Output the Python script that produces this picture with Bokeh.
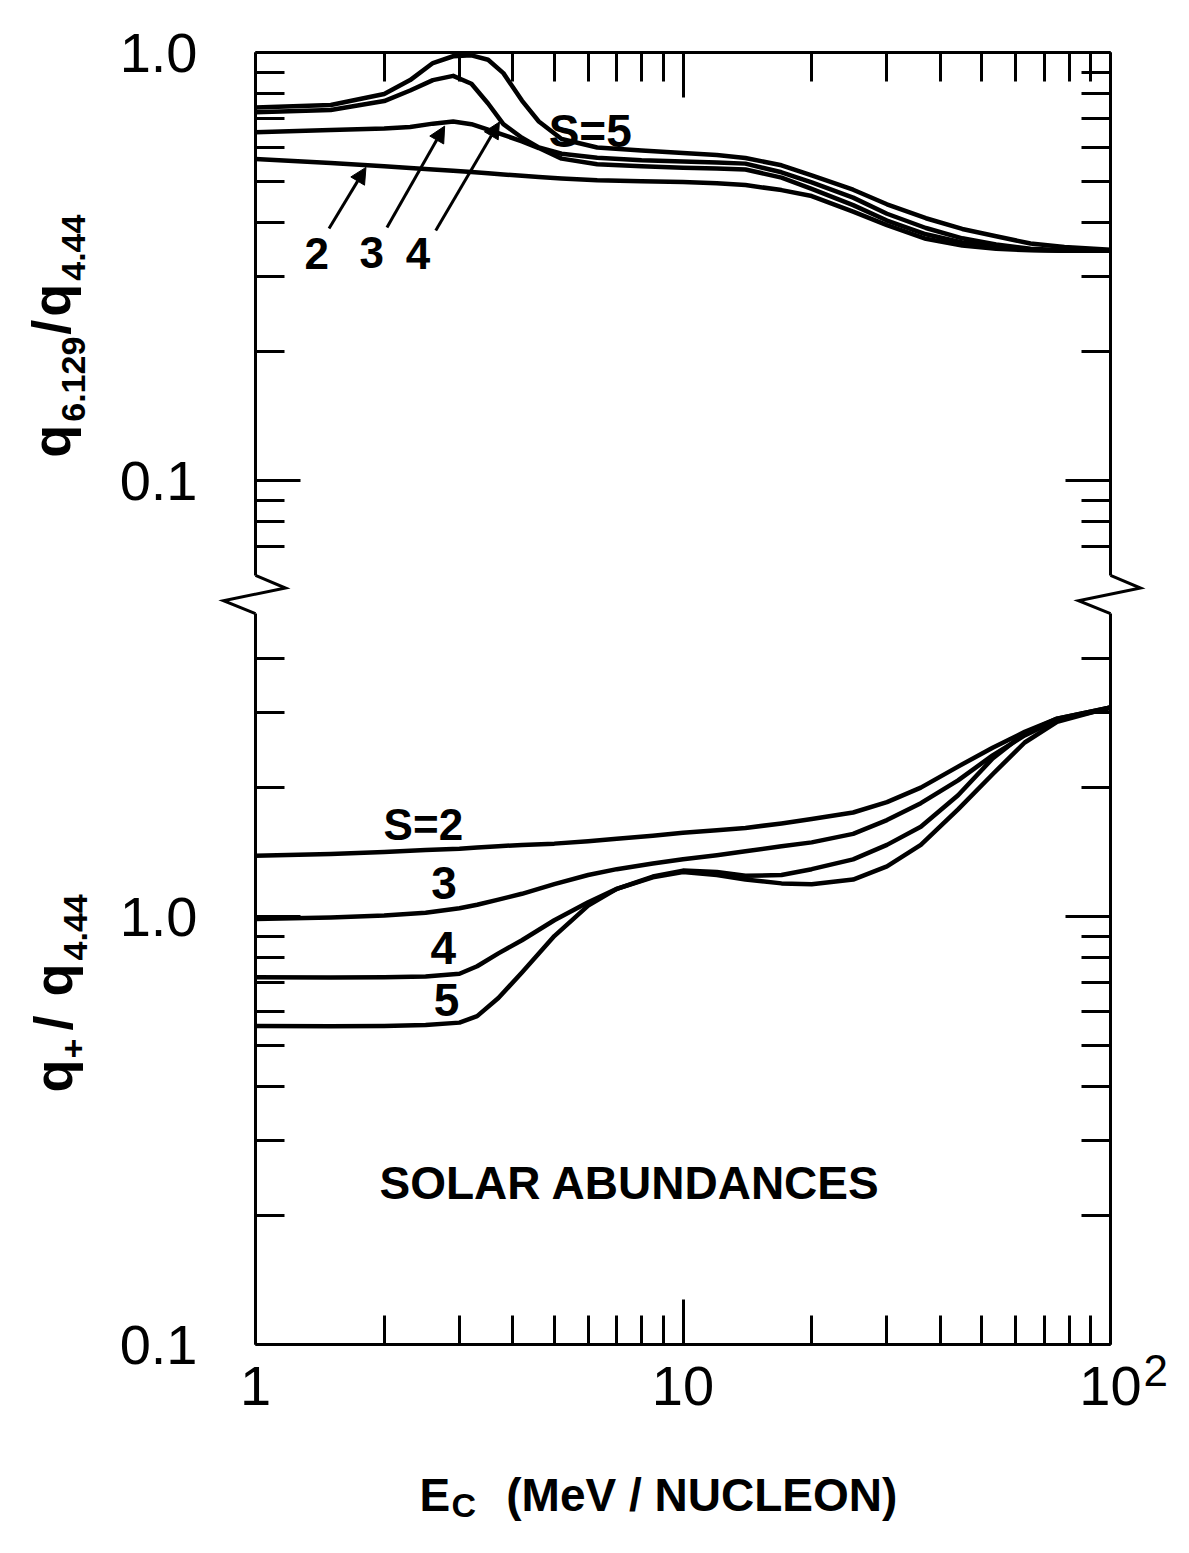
import math
from bokeh.plotting import figure
from bokeh.models import (Range1d, LogAxis, LogScale, FixedTicker, Label, Arrow,
                          NormalHead)
from bokeh.embed import file_html
from bokeh.resources import INLINE

FONT = "Liberation Sans"

# ---------------- data ----------------
# upper panel: q6.129 / q4.44 vs Ec (MeV/nucleon)
energy_top = [1, 1.5, 2.0, 2.3, 2.6, 2.9, 3.2, 3.5, 3.8, 4.2, 4.6, 5.2, 6.3, 8, 10, 12, 14,
              17, 20, 25, 30, 37, 45, 54, 65, 78, 100]
top_s2 = [0.564, 0.552, 0.542, 0.537, 0.533, 0.529, 0.526, 0.522, 0.519, 0.515, 0.512, 0.508,
          0.503, 0.500, 0.498, 0.495, 0.490, 0.477, 0.462, 0.425, 0.395, 0.367, 0.354, 0.348,
          0.345, 0.344, 0.344]
top_s3 = [0.651, 0.659, 0.664, 0.670, 0.682, 0.690, 0.680, 0.660, 0.642, 0.620, 0.598, 0.565,
          0.548, 0.542, 0.538, 0.536, 0.533, 0.510, 0.480, 0.440, 0.405, 0.376, 0.360, 0.352,
          0.346, 0.344, 0.344]
top_s4 = [0.725, 0.734, 0.770, 0.815, 0.862, 0.882, 0.845, 0.760, 0.680, 0.632, 0.600, 0.580,
          0.568, 0.560, 0.556, 0.553, 0.550, 0.525, 0.497, 0.458, 0.420, 0.389, 0.368, 0.356,
          0.348, 0.345, 0.344]
top_s5 = [0.744, 0.754, 0.800, 0.862, 0.945, 0.980, 0.985, 0.962, 0.895, 0.772, 0.690, 0.628,
          0.600, 0.590, 0.582, 0.576, 0.567, 0.545, 0.516, 0.478, 0.442, 0.410, 0.387, 0.372,
          0.358, 0.351, 0.346]

# lower panel: q+ / q4.44 vs Ec
energy_bot = [1, 1.5, 2, 2.5, 3.0, 3.3, 3.7, 4.2, 5, 6, 7, 8.5, 10, 12, 14, 17, 20, 25, 30,
              36, 44, 53, 63, 75, 100]
bot_s2 = [1.386, 1.40, 1.415, 1.43, 1.44, 1.45, 1.46, 1.47, 1.48, 1.50, 1.52, 1.545, 1.57,
          1.59, 1.61, 1.65, 1.69, 1.75, 1.85, 2.00, 2.24, 2.48, 2.70, 2.90, 3.08]
bot_s3 = [0.986, 0.995, 1.005, 1.02, 1.045, 1.065, 1.095, 1.13, 1.19, 1.25, 1.29, 1.33, 1.36,
          1.39, 1.42, 1.46, 1.49, 1.56, 1.68, 1.84, 2.08, 2.38, 2.65, 2.88, 3.07]
bot_s4 = [0.721, 0.720, 0.721, 0.724, 0.735, 0.765, 0.82, 0.88, 0.98, 1.08, 1.16, 1.24, 1.28,
          1.27, 1.245, 1.25, 1.29, 1.36, 1.47, 1.62, 1.92, 2.34, 2.68, 2.90, 3.08]
bot_s5 = [0.555, 0.554, 0.555, 0.558, 0.565, 0.585, 0.645, 0.74, 0.90, 1.06, 1.16, 1.235, 1.27,
          1.25, 1.22, 1.195, 1.19, 1.22, 1.31, 1.47, 1.78, 2.15, 2.55, 2.85, 3.08]

# axes
x_lim = (1, 100)
x_major = [1, 10, 100]
x_minor = [2, 3, 4, 5, 6, 7, 8, 9, 20, 30, 40, 50, 60, 70, 80, 90]
x_tick_text = ["1", "10", "10"]
x_sup_text = "2"
top_lim = (0.06, 1.0)
top_major = [0.1, 1.0]
top_minor = [0.07, 0.08, 0.09, 0.2, 0.3, 0.4, 0.5, 0.6, 0.7, 0.8, 0.9]
bot_lim = (0.1, 5.1)
bot_major = [0.1, 1.0]
bot_minor = [0.2, 0.3, 0.4, 0.5, 0.6, 0.7, 0.8, 0.9, 2, 3, 4]
y_tick_text = ["0.1", "1.0"]

# annotations
top_curve_labels = [("2", 1.39, 0.340), ("3", 1.87, 0.341), ("4", 2.40, 0.339)]
top_arrows = [((1.486, 0.388), (1.813, 0.539)),
              ((2.03, 0.390), (2.77, 0.673)),
              ((2.64, 0.384), (3.72, 0.688))]
top_s5_label = ("S=5", 4.85, 0.655)
bot_curve_labels = [("S=2", 2.47, 1.64), ("3", 2.76, 1.197), ("4", 2.75, 0.846),
                    ("5", 2.80, 0.639)]
bot_title = ("SOLAR ABUNDANCES", 1.95, 0.239)

# ---------------- geometry (pixels) ----------------
W, H = 1170, 1535
PPD_X = 427.5          # pixels per decade, horizontal
PPD_Y = 428.0          # pixels per decade, vertical
X1 = 255               # canvas x of E = 1
Y_TOP1 = 52            # canvas y of the upper panel's 1.0
Y_BOT01 = Y_TOP1 + 1292  # canvas y of the lower panel's 0.1

x_rng = Range1d(10 ** (-X1 / PPD_X), 10 ** ((W - X1) / PPD_X))
bot_rng = Range1d(0.1 * 10 ** (-(H - Y_BOT01) / PPD_Y), 0.1 * 10 ** (Y_BOT01 / PPD_Y))
top_rng = Range1d(10 ** (-(H - Y_TOP1) / PPD_Y), 10 ** (Y_TOP1 / PPD_Y))

p = figure(width=W, height=H, x_range=x_rng, y_range=bot_rng,
           x_axis_location=None, y_axis_location=None,
           toolbar_location=None, output_backend="svg", outline_line_color=None,
           min_border=0, background_fill_color="white", border_fill_color="white")
p.x_scale = LogScale()
p.y_scale = LogScale()
p.extra_y_ranges = {"top": top_rng}
p.extra_y_scales = {"top": LogScale()}
p.grid.visible = False


def overrides(ticks, texts):
    d = {}
    for t, s in zip(ticks, texts):
        d[float(t)] = s
        d[str(t)] = s
        if float(t).is_integer():
            d[str(int(t))] = s
    return d


def add_axis(place, fixed, bounds, major, minor, texts, standoff=0, size="10px",
             yname="default"):
    ax = LogAxis(fixed_location=fixed, bounds=bounds, y_range_name=yname,
                 ticker=FixedTicker(ticks=major, minor_ticks=minor))
    ax.axis_line_width = 3
    ax.axis_line_color = "black"
    ax.major_tick_in = 45
    ax.major_tick_out = 0
    ax.minor_tick_in = 29
    ax.minor_tick_out = 0
    ax.major_tick_line_width = 3
    ax.minor_tick_line_width = 3
    ax.major_tick_line_color = "black"
    ax.minor_tick_line_color = "black"
    ax.major_label_overrides = overrides(major, texts)
    ax.major_label_standoff = standoff
    ax.major_label_text_font = FONT
    ax.major_label_text_font_size = size
    ax.major_label_text_color = "black"
    p.add_layout(ax, place)
    return ax


blank2 = ["", ""]
blank3 = ["", "", ""]
# upper panel frame
add_axis("above", top_lim[1], x_lim, x_major, x_minor, blank3, yname="top")
add_axis("left", x_lim[0], top_lim, top_major, top_minor, y_tick_text, 58, "56px", yname="top")
add_axis("right", x_lim[1], top_lim, top_major, top_minor, blank2, yname="top")
# lower panel frame
add_axis("below", bot_lim[0], x_lim, x_major, x_minor, x_tick_text, 22, "56px")
add_axis("left", x_lim[0], bot_lim, bot_major, bot_minor, y_tick_text, 58, "56px")
add_axis("right", x_lim[1], bot_lim, bot_major, bot_minor, blank2)

# axis breaks (zig-zags between the two panels)
y_gap_top = Y_TOP1 + PPD_Y * math.log10(top_lim[1] / top_lim[0])
y_gap_bot = Y_BOT01 - PPD_Y * math.log10(bot_lim[1] / bot_lim[0])
gap = y_gap_bot - y_gap_top
zig_px = [0, 30, -32, 0]
zig_fr = [0, 0.33, 0.66, 1.0]
zig_y = [10 ** (-(y_gap_top + f * gap - Y_TOP1) / PPD_Y) for f in zig_fr]
for x_edge in x_lim:
    p.line([x_edge * 10 ** (d / PPD_X) for d in zig_px], zig_y, y_range_name="top",
           line_width=3, color="black", line_join="miter")

LW = 4.5
for ys in (top_s2, top_s3, top_s4, top_s5):
    p.line(energy_top, ys, y_range_name="top", line_width=LW, color="black",
           line_join="round")
for ys in (bot_s2, bot_s3, bot_s4, bot_s5):
    p.line(energy_bot, ys, line_width=LW, color="black", line_join="round")


def label(text, x, y, size, bold=True, align="left", baseline="alphabetic",
          angle=0.0, xo=0, yo=0, yname="default"):
    p.add_layout(Label(x=x, y=y, text=text, text_font=FONT,
                       text_font_size=f"{size}px",
                       text_font_style="bold" if bold else "normal",
                       text_align=align, text_baseline=baseline, angle=angle,
                       x_offset=xo, y_offset=yo, text_color="black",
                       y_range_name=yname))


# upper panel annotations
for t, x, y in top_curve_labels:
    label(t, x, y, 44, align="center", baseline="middle", yname="top")
for (x0, y0), (x1, y1) in top_arrows:
    p.add_layout(Arrow(end=NormalHead(size=16, fill_color="black", line_color="black"),
                       x_start=x0, y_start=y0, x_end=x1, y_end=y1, y_range_name="top",
                       line_width=3, line_color="black"))
label(top_s5_label[0], top_s5_label[1], top_s5_label[2], 46, yname="top")

# lower panel annotations
for t, x, y in bot_curve_labels:
    label(t, x, y, 46 if t != "S=2" else 44, align="center", baseline="middle")
label(bot_title[0], bot_title[1], bot_title[2], 46)

# superscript of 10^2
label(x_sup_text, x_major[-1], bot_lim[0], 44, bold=False, xo=33, yo=-26)

# x-axis title: E_C (MeV / NUCLEON)
label("E", 2.42, bot_lim[0], 46, yo=-150)
label("C", 2.42, bot_lim[0], 34, xo=32, yo=-160)
label("(MeV / NUCLEON)", 3.86, bot_lim[0], 46, yo=-150)

# y-axis titles (rotated, reading upwards)
A90 = math.pi / 2
for txt, size, along, low in [("q", 54, 0, 0), ("6.129", 34, 36, 22), ("/", 54, 123, 0),
                              ("q", 54, 141, 0), ("4.44", 34, 177, 22)]:
    label(txt, 0.333, 0.113, size, angle=A90, xo=low, yo=along, yname="top")
for txt, size, along, low in [("q", 54, 0, 0), ("+", 34, 34, 20), ("/", 54, 62, 0),
                              ("q", 54, 96, 0), ("4.44", 34, 132, 22)]:
    label(txt, 0.336, 0.388, size, angle=A90, xo=low, yo=along)

open("out.html", "w").write(file_html(p, INLINE))
